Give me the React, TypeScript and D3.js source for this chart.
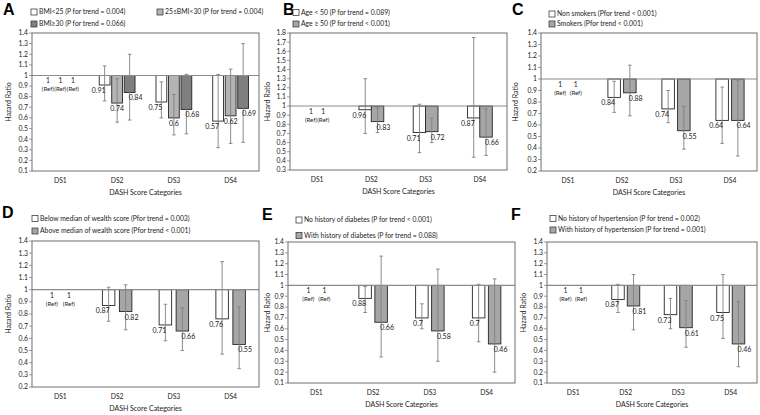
import * as d3 from 'd3'

const categories = ['DS1', 'DS2', 'DS3', 'DS4']

// A: BMI
const bmiNames = ['BMI<25 (P for trend = 0.004)', '25≤BMI<30 (P for trend = 0.004)', 'BMI≥30 (P for trend = 0.066)']
const bmiHR = [[1, 0.91, 0.75, 0.57], [1, 0.74, 0.6, 0.62], [1, 0.84, 0.68, 0.69]]
const bmiLower = [[1, 0.76, 0.6, 0.32], [1, 0.56, 0.44, 0.36], [1, 0.58, 0.45, 0.37]]
const bmiUpper = [[1, 1.09, 0.94, 1.01], [1, 0.97, 0.82, 1.06], [1, 1.2, 1.01, 1.3]]

// B: age
const ageNames = ['Age < 50 (P for trend = 0.089)', 'Age ≥ 50 (P for trend < 0.001)']
const ageHR = [[1, 0.96, 0.71, 0.87], [1, 0.83, 0.72, 0.66]]
const ageLower = [[1, 0.7, 0.49, 0.44], [1, 0.71, 0.6, 0.46]]
const ageUpper = [[1, 1.3, 1.02, 1.75], [1, 0.98, 0.87, 0.97]]

// C: smoking
const smokeNames = ['Non smokers (Pfor trend < 0.001)', 'Smokers (Pfor trend < 0.001)']
const smokeHR = [[1, 0.84, 0.74, 0.64], [1, 0.88, 0.55, 0.64]]
const smokeLower = [[1, 0.71, 0.62, 0.44], [1, 0.68, 0.39, 0.33]]
const smokeUpper = [[1, 0.98, 0.9, 0.93], [1, 1.12, 0.76, 0.99]]

// D: wealth
const wealthNames = ['Below median of wealth score (Pfor trend = 0.003)', 'Above median of wealth score (Pfor trend < 0.001)']
const wealthHR = [[1, 0.87, 0.71, 0.76], [1, 0.82, 0.66, 0.55]]
const wealthLower = [[1, 0.74, 0.58, 0.47], [1, 0.67, 0.5, 0.35]]
const wealthUpper = [[1, 1.02, 0.88, 1.23], [1, 1.04, 0.85, 0.86]]

// E: diabetes
const diabNames = ['No history of diabetes (P for trend < 0.001)', 'With history of diabetes (P for trend = 0.088)']
const diabHR = [[1, 0.88, 0.7, 0.7], [1, 0.66, 0.58, 0.46]]
const diabLower = [[1, 0.75, 0.6, 0.48], [1, 0.34, 0.3, 0.2]]
const diabUpper = [[1, 0.99, 0.83, 1.01], [1, 1.27, 1.15, 1.06]]

// F: hypertension
const htnNames = ['No history of hypertension (P for trend = 0.002)', 'With history of hypertension (P for trend = 0.001)']
const htnHR = [[1, 0.87, 0.73, 0.75], [1, 0.81, 0.61, 0.46]]
const htnLower = [[1, 0.75, 0.6, 0.51], [1, 0.59, 0.43, 0.25]]
const htnUpper = [[1, 1.01, 0.88, 1.1], [1, 1.1, 0.86, 0.85]]

const FONT = "Lato, 'Open Sans', sans-serif"
const TEXT = '#222'

interface PanelSpec {
  letter: string
  letterPos: [number, number]
  names: string[]
  hr: number[][]
  lower: number[][]
  upper: number[][]
  fills: string[]
  domain: [number, number]
  frame: { l: number; r: number; t: number; b: number }
  legend: [number, number][]
  titleX: number
  barW: number
  step: number
}

const panels: PanelSpec[] = [
  {
    letter: 'A', letterPos: [3, 15], names: bmiNames, hr: bmiHR, lower: bmiLower, upper: bmiUpper,
    fills: ['#ffffff', '#b4b4b4', '#7f7f7f'], domain: [0.1, 1.4],
    frame: { l: 32, r: 259, t: 33, b: 171 }, legend: [[31, 12], [157, 12], [31, 24]], titleX: 8,
    barW: 10.8, step: 12.5,
  },
  {
    letter: 'B', letterPos: [283, 15], names: ageNames, hr: ageHR, lower: ageLower, upper: ageUpper,
    fills: ['#ffffff', '#a6a6a6'], domain: [0.3, 1.8],
    frame: { l: 290, r: 507, t: 33, b: 170 }, legend: [[293, 12.5], [293, 24]], titleX: 267,
    barW: 12.5, step: 12.3,
  },
  {
    letter: 'C', letterPos: [512, 15], names: smokeNames, hr: smokeHR, lower: smokeLower, upper: smokeUpper,
    fills: ['#ffffff', '#a6a6a6'], domain: [0.2, 1.4],
    frame: { l: 541, r: 757, t: 33, b: 171 }, legend: [[549, 14], [549, 24]], titleX: 515,
    barW: 12.5, step: 15.7,
  },
  {
    letter: 'D', letterPos: [2, 218], names: wealthNames, hr: wealthHR, lower: wealthLower, upper: wealthUpper,
    fills: ['#ffffff', '#a6a6a6'], domain: [0.2, 1.4],
    frame: { l: 32, r: 259, t: 241, b: 387 }, legend: [[32, 218.5], [32, 231]], titleX: 8,
    barW: 12.5, step: 17,
  },
  {
    letter: 'E', letterPos: [262, 220], names: diabNames, hr: diabHR, lower: diabLower, upper: diabUpper,
    fills: ['#ffffff', '#a6a6a6'], domain: [0.1, 1.4],
    frame: { l: 288, r: 515, t: 242, b: 383 }, legend: [[296, 220], [296, 235.5]], titleX: 267,
    barW: 12.5, step: 16,
  },
  {
    letter: 'F', letterPos: [511, 220], names: htnNames, hr: htnHR, lower: htnLower, upper: htnUpper,
    fills: ['#ffffff', '#a6a6a6'], domain: [0.1, 1.4],
    frame: { l: 547, r: 757, t: 242, b: 383 }, legend: [[550, 218.5], [550, 230]], titleX: 523,
    barW: 12.5, step: 15.5,
  },
]

const fmt = d3.format('.1~f')
const valFmt = d3.format('~g')

function Panel({ p }: { p: PanelSpec }) {
  const { frame } = p
  const n = p.names.length
  const x0 = d3.scaleBand(categories, [frame.l, frame.r])
  const x1 = d3.scalePoint(d3.range(n), [-(n - 1) * p.step / 2, (n - 1) * p.step / 2])
  const y = d3.scaleLinear(p.domain, [frame.b, frame.t])
  const ticks = d3.range(Math.round((p.domain[1] - p.domain[0]) * 10) + 1).map((i) => +(p.domain[0] + i * 0.1).toFixed(1))
  const cx = (c: string, i: number) => (x0(c) ?? 0) + x0.bandwidth() / 2 + (x1(i) ?? 0)
  const anchor = (i: number) => (i === 0 ? 'end' : i === n - 1 ? 'start' : 'middle')
  const y1 = y(1)

  return (
    <g fontFamily={FONT} fill={TEXT}>
      <text x={p.letterPos[0]} y={p.letterPos[1]} fontFamily="'Liberation Sans', Arial, sans-serif" fontWeight="bold" fontSize={16} fill="#000">
        {p.letter}
      </text>

      {p.names.map((name, i) => (
        <g key={name}>
          <rect x={p.legend[i][0]} y={p.legend[i][1] - 3} width={6} height={6} fill={p.fills[i]} stroke="#404040" strokeWidth={0.8} />
          <text x={p.legend[i][0] + 8} y={p.legend[i][1] + 2.4} fontSize={6.8}>{name}</text>
        </g>
      ))}

      {/* y axis */}
      {ticks.map((t) => (
        <g key={t}>
          <line x1={frame.l - 3} x2={frame.l} y1={y(t)} y2={y(t)} stroke="#868686" strokeWidth={0.8} />
          <text x={frame.l - 4} y={y(t) + 2.4} fontSize={6.8} textAnchor="end">{fmt(t)}</text>
        </g>
      ))}
      <text
        transform={`translate(${p.titleX},${(frame.t + frame.b) / 2}) rotate(-90)`}
        y={2.5}
        fontSize={7}
        textAnchor="middle"
      >
        Hazard Ratio
      </text>

      {/* bars */}
      {p.hr.map((vals, i) =>
        vals.map((v, j) =>
          j === 0 ? null : (
            <rect
              key={`b${i}-${j}`}
              x={cx(categories[j], i) - p.barW / 2}
              y={y1}
              width={p.barW}
              height={y(v) - y1}
              fill={p.fills[i]}
              stroke="#262626"
              strokeWidth={0.9}
            />
          ),
        ),
      )}

      {/* error bars */}
      {p.hr.map((vals, i) =>
        vals.map((_, j) => {
          if (j === 0) return null
          const x = cx(categories[j], i)
          const lo = y(p.lower[i][j])
          const hi = y(p.upper[i][j])
          return (
            <g key={`e${i}-${j}`} stroke="#808080" strokeWidth={0.9}>
              <line x1={x} x2={x} y1={hi} y2={lo} />
              <line x1={x - 1.8} x2={x + 1.8} y1={hi} y2={hi} />
              <line x1={x - 1.8} x2={x + 1.8} y1={lo} y2={lo} />
            </g>
          )
        }),
      )}

      {/* reference line at 1 */}
      <line x1={frame.l} x2={frame.r} y1={y1} y2={y1} stroke="#8c8c8c" strokeWidth={1.1} />
      <rect x={frame.l} y={frame.t} width={frame.r - frame.l} height={frame.b - frame.t} fill="none" stroke="#6e6e6e" strokeWidth={1} />

      {/* value labels */}
      {p.hr.map((vals, i) =>
        vals.map((v, j) => {
          const x = cx(categories[j], i)
          if (j === 0) {
            return (
              <g key={`l${i}-${j}`} textAnchor="middle">
                <text x={x} y={y1 + 8} fontSize={6.8}>1</text>
                <text x={x} y={y1 + 16} fontSize={6}>(Ref)</text>
              </g>
            )
          }
          return (
            <text key={`l${i}-${j}`} x={i === 0 ? x + 1 : i === n - 1 ? x - 1 : x} y={y(v) + 8} fontSize={7} textAnchor={anchor(i)}>
              {valFmt(v)}
            </text>
          )
        }),
      )}

      {/* x axis labels */}
      {categories.map((c) => (
        <text key={c} x={(x0(c) ?? 0) + x0.bandwidth() / 2} y={frame.b + 11.5} fontSize={6.8} textAnchor="middle">
          {c}
        </text>
      ))}
      <text x={(frame.l + frame.r) / 2} y={frame.b + 23.5} fontSize={7} textAnchor="middle">
        DASH Score Categories
      </text>
    </g>
  )
}

export default function App() {
  return (
    <svg width={760} height={415} viewBox="0 0 760 415" style={{ position: 'absolute', left: 0, top: 0, background: '#fff' }}>
      {panels.map((p) => (
        <Panel key={p.letter} p={p} />
      ))}
    </svg>
  )
}
